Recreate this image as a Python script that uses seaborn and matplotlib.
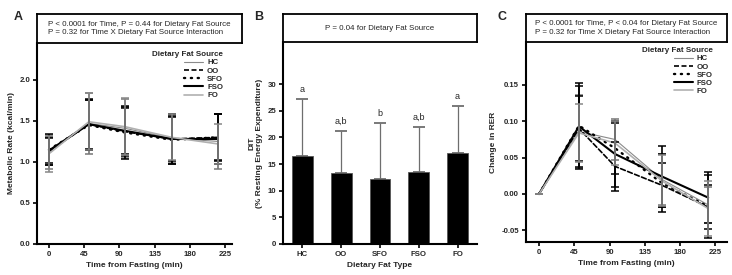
import numpy as np
import pandas as pd
import seaborn as sns
import matplotlib.pyplot as plt
from matplotlib.lines import Line2D

# ---- data ----
diets = ["HC", "OO", "SFO", "FSO", "FO"]
time_min = [0, 51, 97, 157, 216]

# A: metabolic rate (kcal/min), mean and SD
mr_mean = {
    "HC":  [1.12, 1.47, 1.41, 1.29, 1.25],
    "OO":  [1.13, 1.46, 1.37, 1.28, 1.30],
    "SFO": [1.15, 1.45, 1.36, 1.27, 1.30],
    "FSO": [1.14, 1.46, 1.38, 1.28, 1.28],
    "FO":  [1.10, 1.49, 1.43, 1.30, 1.22],
}
mr_sd = {
    "HC":  [0.21, 0.37, 0.36, 0.30, 0.33],
    "OO":  [0.17, 0.31, 0.30, 0.27, 0.29],
    "SFO": [0.19, 0.31, 0.32, 0.29, 0.28],
    "FSO": [0.15, 0.30, 0.28, 0.31, 0.30],
    "FO":  [0.22, 0.35, 0.35, 0.28, 0.24],
}

# B: DIT (% resting energy expenditure)
dit_mean = [16.5, 13.3, 12.2, 13.5, 17.1]
dit_sd = [10.7, 7.9, 10.5, 8.4, 8.8]
dit_letters = ["a", "a,b", "b", "a,b", "a"]

# C: change in RER
rer_mean = {
    "HC":  [0, 0.086, 0.075, 0.020, -0.015],
    "OO":  [0, 0.090, 0.038, 0.012, -0.018],
    "SFO": [0, 0.094, 0.063, 0.015, -0.017],
    "FSO": [0, 0.093, 0.055, 0.024, -0.005],
    "FO":  [0, 0.084, 0.070, 0.018, -0.020],
}
rer_sd = {
    "HC":  [0, 0.050, 0.028, 0.035, 0.025],
    "OO":  [0, 0.045, 0.034, 0.030, 0.030],
    "SFO": [0, 0.059, 0.035, 0.040, 0.043],
    "FSO": [0, 0.056, 0.045, 0.042, 0.035],
    "FO":  [0, 0.040, 0.030, 0.035, 0.038],
}

# ---- styling ----
sns.set_theme(style="ticks")
plt.rcParams['font.family'] = ['Liberation Sans', 'DejaVu Sans']

palette = {"HC": "#8a8a8a", "OO": "black", "SFO": "black", "FSO": "black", "FO": "#b0b0b0"}
dashes = {"HC": "", "OO": (3, 1.5), "SFO": (0.5, 2.4), "FSO": "", "FO": ""}
sizes = {"HC": 0.8, "OO": 1.2, "SFO": 1.7, "FSO": 1.5, "FO": 1.2}
ecol = {"HC": "#777777", "OO": "black", "SFO": "black", "FSO": "black", "FO": "#888888"}

W, H = 732, 275
fig = plt.figure(figsize=(7.32, 2.75), dpi=100)


def px_axes(x0, x1, y0, y1):
    return fig.add_axes([x0 / W, 1 - y1 / H, (x1 - x0) / W, (y1 - y0) / H])


def header(x0, x1, y0, y1, text):
    hx = px_axes(x0, x1, y0, y1)
    hx.set_xticks([])
    hx.set_yticks([])
    for s in hx.spines.values():
        s.set_linewidth(1.3)
        s.set_color("black")
    hx.text(0.5, 0.5, text, ha="center", va="center", multialignment="left",
            fontsize=5.7, linespacing=1.35, transform=hx.transAxes)
    return hx


def style_axis(ax):
    sns.despine(ax=ax)
    for s in ["left", "bottom"]:
        ax.spines[s].set_linewidth(1.5)
        ax.spines[s].set_color("black")
    ax.tick_params(length=3, width=1.2, labelsize=5.6, pad=2, color="black")
    for lab in ax.get_xticklabels() + ax.get_yticklabels():
        lab.set_fontweight("bold")


def long_df(means):
    rows = []
    for d in diets:
        for t, v in zip(time_min, means[d]):
            rows.append({"time": t, "value": v, "diet": d})
    return pd.DataFrame(rows)


def line_panel(ax, means, sds, cap):
    df = long_df(means)
    sns.lineplot(data=df, x="time", y="value", hue="diet", style="diet", size="diet",
                 palette=palette, dashes=dashes, sizes=sizes, errorbar=None,
                 legend=False, ax=ax, zorder=2)
    for ln in ax.get_lines():
        ln.set_dash_capstyle("round")
    for d in diets:
        ax.errorbar(time_min, means[d], yerr=sds[d], fmt="none", ecolor=ecol[d],
                    elinewidth=1.2, capsize=cap, capthick=1.1, zorder=3)
    handles = [Line2D([], [], color=palette[d], lw=sizes[d],
                      dashes=dashes[d] if dashes[d] else (None, None)) for d in diets]
    for h, d in zip(handles, diets):
        if d == "SFO":
            h.set_dash_capstyle("round")
    return handles


def add_legend(ax, handles, anchor):
    leg = ax.legend(handles, diets, title="Dietary Fat Source", loc="upper right",
                    bbox_to_anchor=anchor, frameon=False, fontsize=5.6,
                    title_fontproperties={"weight": "bold", "size": 5.8},
                    handlelength=2.4, handletextpad=0.5, labelspacing=0.1,
                    alignment="right", borderaxespad=0)
    for t in leg.get_texts():
        t.set_fontweight("bold")


# ---- Panel A ----
axA = px_axes(37, 232, 43, 244)
hA = line_panel(axA, mr_mean, mr_sd, 3.2)
axA.set_xlim(-15.3, 234)
axA.set_ylim(0, 2.45)
axA.set_xticks([0, 45, 90, 135, 180, 225])
axA.set_yticks([0.0, 0.5, 1.0, 1.5, 2.0])
axA.set_yticklabels(["0.0", "0.5", "1.0", "1.5", "2.0"])
axA.set_xlabel("Time from Fasting (min)", fontsize=6, fontweight="bold", labelpad=3)
axA.set_ylabel("Metabolic Rate (kcal/min)", fontsize=6, fontweight="bold", labelpad=3)
style_axis(axA)
add_legend(axA, hA, (0.97, 0.975))
header(37, 242, 14, 43,
       "P < 0.0001 for Time, P = 0.44 for Dietary Fat Source\n"
       "P = 0.32 for Time X Dietary Fat Source Interaction")

# ---- Panel B ----
axB = px_axes(283, 477, 42, 244)
dfB = pd.DataFrame({"diet": diets, "dit": dit_mean})
sns.barplot(data=dfB, x="diet", y="dit", color="black", width=0.54,
            edgecolor="#555555", linewidth=0.6, ax=axB, zorder=2)
_, caps, _ = axB.errorbar(range(len(diets)), dit_mean, yerr=[[0] * 5, dit_sd],
                          fmt="none", ecolor="#6e6e6e", elinewidth=0.9,
                          capsize=4, capthick=1.3, zorder=1)
for c in caps:
    c.set_color("black")
for i, (m, s, lab) in enumerate(zip(dit_mean, dit_sd, dit_letters)):
    axB.text(i, m + s + 1.0, lab, ha="center", va="bottom", fontsize=6.5)
axB.set_xlim(-0.5, 4.5)
axB.set_ylim(0, 37.9)
axB.set_yticks([0, 5, 10, 15, 20, 25, 30])
axB.set_xlabel("Dietary Fat Type", fontsize=6, fontweight="bold", labelpad=3)
axB.set_ylabel("DIT\n(% Resting Energy Expenditure)", fontsize=6,
               fontweight="bold", labelpad=3)
style_axis(axB)
header(283, 477, 14, 42, "P = 0.04 for Dietary Fat Source")

# ---- Panel C ----
axC = px_axes(526, 727, 42, 242)
hC = line_panel(axC, rer_mean, rer_sd, 3.2)
axC.set_xlim(-16.6, 240)
axC.set_ylim(-0.066, 0.209)
axC.set_xticks([0, 45, 90, 135, 180, 225])
axC.set_yticks([-0.05, 0.0, 0.05, 0.10, 0.15])
axC.set_yticklabels(["-0.05", "0.00", "0.05", "0.10", "0.15"])
axC.set_xlabel("Time from Fasting (min)", fontsize=6, fontweight="bold", labelpad=3)
axC.set_ylabel("Change in RER", fontsize=6, fontweight="bold", labelpad=3)
style_axis(axC)
add_legend(axC, hC, (0.945, 0.99))
header(526, 727, 14, 42,
       "P < 0.0001 for Time, P < 0.04 for Dietary Fat Source\n"
       "P = 0.32 for Time X Dietary Fat Source Interaction")

# panel letters
for x, lab in [(18, "A"), (259, "B"), (502, "C")]:
    fig.text(x / W, 1 - 17 / H, lab, ha="center", va="center",
             fontsize=9, fontweight="bold")

fig.savefig("out.png", dpi=100, facecolor="white")
